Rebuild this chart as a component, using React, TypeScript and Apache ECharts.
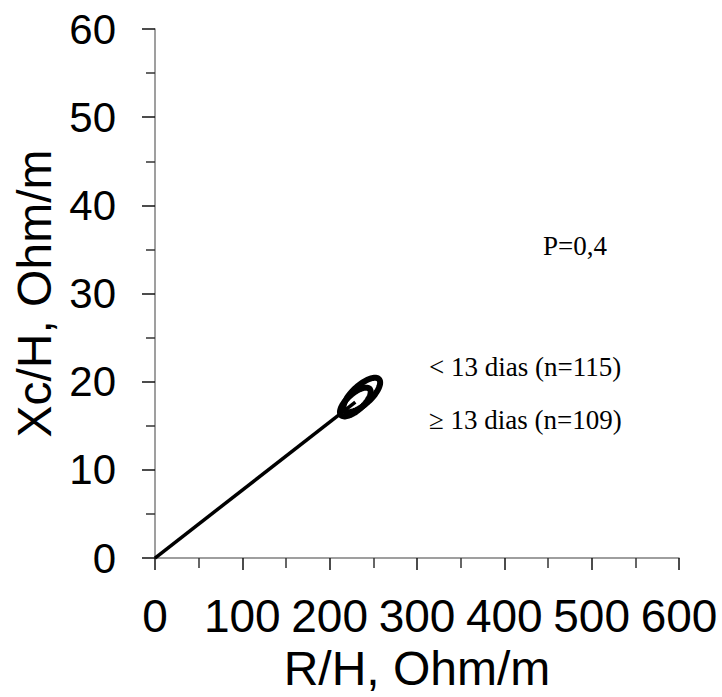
import React, { useEffect, useRef } from "react";
import * as echarts from "echarts";

// Axis ranges and ticks
const R_MIN = 0;
const R_MAX = 600;
const R_STEP = 100;
const XC_MIN = 0;
const XC_MAX = 60;
const XC_STEP = 10;

// Group statistics (mean vector and 95% confidence ellipse)
const groupLabels = ["< 13 dias (n=115)", "\u2265 13 dias (n=109)"];
const meanR = [229.4, 236.8];
const meanXc = [17.7, 18.5];
const ellipseHalfR = [17.6, 21.0];
const ellipseHalfXc = [1.63, 1.95];
const ellipseRho = [0.7, 0.72];
const pValueLabel = "P=0,4";

const SANS = '"Liberation Sans", Arial, sans-serif';
const SERIF = '"Liberation Serif", "Times New Roman", serif';

export default function App() {
  const ref = useRef<HTMLDivElement>(null);

  useEffect(() => {
    if (!ref.current) return;
    const chart = echarts.init(ref.current, null, { renderer: "svg" });

    const ellipseData = meanR.map((r, i) => [
      r,
      meanXc[i],
      ellipseHalfR[i],
      ellipseHalfXc[i],
      ellipseRho[i],
    ]);

    const axisCommon = {
      type: "value" as const,
      splitLine: { show: false },
      axisLine: { show: true, lineStyle: { color: "#7f7f7f", width: 1.5 } },
      axisTick: {
        show: true,
        inside: false,
        length: 12,
        lineStyle: { color: "#111", width: 1.5 },
      },
      minorTick: {
        show: true,
        splitNumber: 2,
        length: 10,
        lineStyle: { color: "#333", width: 1.5 },
      },
      minorSplitLine: { show: false },
      nameTextStyle: { fontFamily: SANS, fontSize: 48, color: "#000" },
    };

    chart.setOption({
      animation: false,
      backgroundColor: "#fff",
      grid: { left: 155, right: 43, top: 29, bottom: 104, containLabel: false },
      xAxis: {
        ...axisCommon,
        min: R_MIN,
        max: R_MAX,
        interval: R_STEP,
        name: "R/H, Ohm/m",
        nameLocation: "middle",
        nameGap: 67,
        axisLabel: {
          margin: 35,
          fontFamily: SANS,
          fontSize: 46,
          color: "#000",
        },
      },
      yAxis: {
        ...axisCommon,
        min: XC_MIN,
        max: XC_MAX,
        interval: XC_STEP,
        name: "Xc/H, Ohm/m",
        nameLocation: "middle",
        nameGap: 94,
        axisTick: { ...axisCommon.axisTick, length: 13 },
        minorTick: { ...axisCommon.minorTick, length: 9 },
        axisLabel: {
          margin: 39,
          fontFamily: SANS,
          fontSize: 42,
          color: "#000",
        },
      },
      series: [
        {
          type: "line",
          name: "vector",
          data: [
            [0, 0],
            [meanR[0], meanXc[0]],
          ],
          symbol: "none",
          lineStyle: { color: "#000", width: 3.5 },
          silent: true,
          z: 2,
        },
        {
          type: "custom",
          name: "ellipses",
          data: ellipseData,
          encode: { x: 0, y: 1 },
          clip: false,
          z: 3,
          renderItem: (_params: any, api: any) => {
            const cR = api.value(0);
            const cX = api.value(1);
            const hR = api.value(2);
            const hX = api.value(3);
            const rho = api.value(4);
            const k = Math.sqrt(1 - rho * rho);
            const pts: number[][] = [];
            const n = 90;
            for (let j = 0; j < n; j++) {
              const t = (2 * Math.PI * j) / n;
              const r = cR + hR * Math.cos(t);
              const x = cX + hX * (rho * Math.cos(t) + k * Math.sin(t));
              pts.push(api.coord([r, x]));
            }
            return {
              type: "polygon",
              shape: { points: pts },
              style: { fill: "none", stroke: "#000", lineWidth: 6 },
            };
          },
        },
      ],
      graphic: [
        {
          type: "text",
          x: 543,
          y: 246,
          style: {
            text: pValueLabel,
            font: `27px ${SERIF}`,
            fill: "#000",
            verticalAlign: "middle",
          },
        },
        {
          type: "text",
          x: 429,
          y: 367,
          style: {
            text: groupLabels[0],
            font: `27px ${SERIF}`,
            fill: "#000",
            verticalAlign: "middle",
          },
        },
        {
          type: "text",
          x: 429,
          y: 420,
          style: {
            text: groupLabels[1],
            font: `27px ${SERIF}`,
            fill: "#000",
            verticalAlign: "middle",
          },
        },
      ],
    });

    return () => chart.dispose();
  }, []);

  return (
    <div
      ref={ref}
      style={{ position: "fixed", left: 0, top: 0, width: 722, height: 697, background: "#fff" }}
    />
  );
}
